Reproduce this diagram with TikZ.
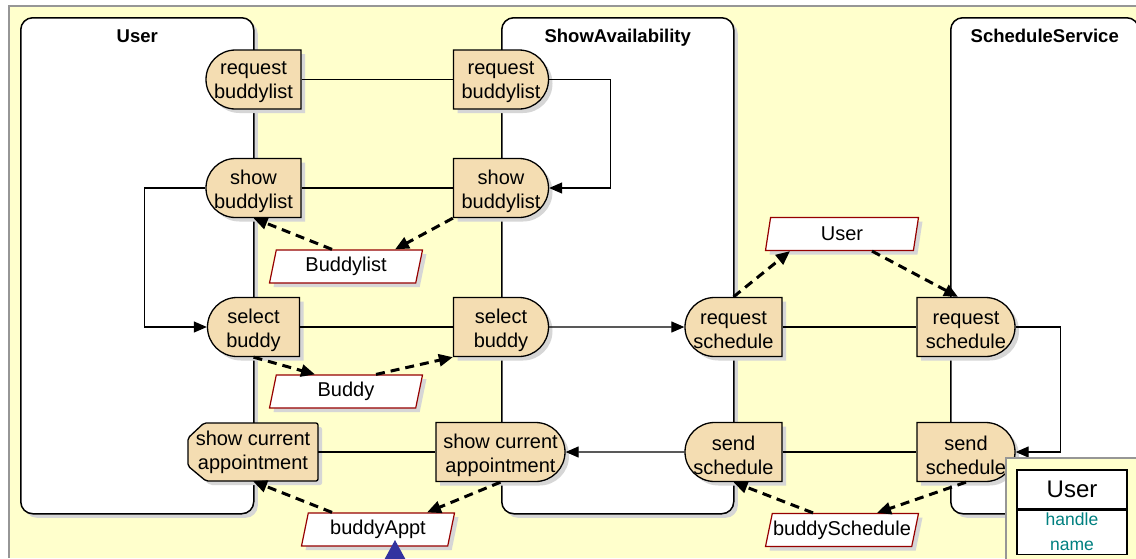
\documentclass[tikz,border=0pt]{standalone}
\usepackage{fontspec}
\setmainfont{Liberation Sans}
\usetikzlibrary{positioning,shapes.misc,shapes.geometric,shadows,arrows.meta}
\definecolor{bgyellow}{RGB}{255,255,204}
\definecolor{actfill}{RGB}{244,221,178}
\definecolor{objred}{RGB}{150,0,0}
\definecolor{shadowgray}{RGB}{214,214,214}
\definecolor{framegray}{RGB}{150,150,150}
\definecolor{tealtext}{RGB}{0,128,128}
\definecolor{bluetri}{RGB}{51,51,160}
\begin{document}
\begin{tikzpicture}[x=1pt, y=-1pt,
    shade/.style={drop shadow={shadow xshift=4pt, shadow yshift=-4pt, fill=shadowgray, opacity=1}},
    lane/.style={draw, line width=1.5pt, fill=white, rounded corners=12pt, anchor=north west, inner sep=0pt, shade},
    lanetitle/.style={font=\fontsize{18.5}{22}\selectfont\bfseries, inner sep=0pt, anchor=base},
    act/.style={rounded rectangle, draw, line width=1.3pt, fill=actfill, minimum width=95pt, minimum height=59pt, inner sep=0pt, shade},
    roundleft/.style={act, rounded rectangle right arc=none},
    roundright/.style={act, rounded rectangle left arc=none},
    acttext/.style={align=center, font=\fontsize{20}{24}\selectfont, inner sep=0pt},
    actlabel/.style={acttext, yshift=-3pt},
    obj/.style={trapezium, trapezium left angle=70, trapezium right angle=110, trapezium stretches body, draw=objred, line width=1.2pt, fill=white, minimum width=153pt, minimum height=33pt, inner sep=0pt, font=\fontsize{20}{24}\selectfont, shade},
    link/.style={line width=1.2pt},
    flow/.style={line width=1.2pt, -{Triangle[length=13pt, width=11pt]}},
    objflow/.style={line width=3pt, dash pattern=on 9pt off 6pt, -{Triangle[length=14pt, width=12pt]}}
  ]
  \useasboundingbox (0,0) rectangle (1136,558);
  \clip (0,0) rectangle (1136,558);

  \fill[bgyellow] (9,6) rectangle (1136,558);
  \draw[framegray, line width=1.5pt] (9,558) -- (9,6) -- (1136,6);

  % swimlanes
  \node[lane, minimum width=233pt, minimum height=496pt] (userlane) at (20,17) {};
  \node[lane, minimum width=232pt, minimum height=496pt] (salane) at (501,17) {};
  \node[lane, minimum width=188pt, minimum height=496pt] (sslane) at (950,17) {};
  \node[lanetitle] at ([yshift=-25pt]userlane.north) {User};
  \node[lanetitle] at ([yshift=-25pt]salane.north) {ShowAvailability};
  \node[lanetitle] at ([yshift=-25pt]sslane.north) {ScheduleService};

  % actions
  \node[roundleft, label={[actlabel]center:request\\buddylist}] (ureq) at (253.5,79.5) {};
  \node[roundleft, label={[actlabel]center:show\\buddylist}] (ushow) at (253.5,188) {};
  \node[roundleft, minimum width=92pt, label={[actlabel]center:select\\buddy}] (usel) at (253.5,327) {};
  \path[draw, line width=1.3pt, fill=actfill, shade, rounded corners=2pt]
    (318,423) -- (318,481) -- (206,481) -- (188,466) -- (188,438) -- (204,423) -- cycle;
  \node[acttext, minimum width=130pt, minimum height=58pt] (uappt) at (253,452) {show current\\appointment};

  \node[roundright, label={[actlabel]center:request\\buddylist}] (sareq) at (501,79.5) {};
  \node[roundright, label={[actlabel]center:show\\buddylist}] (sashow) at (501,188) {};
  \node[roundright, label={[actlabel]center:select\\buddy}] (sasel) at (501,327) {};
  \node[roundright, minimum width=129pt, label={[actlabel]center:show current\\appointment}] (saappt) at (500.5,452) {};

  \node[roundleft, minimum width=97pt, label={[actlabel]center:request\\schedule}] (sareqsched) at (733.5,327) {};
  \node[roundleft, minimum width=97pt, label={[actlabel]center:send\\schedule}] (sasend) at (733.5,452) {};
  \node[roundright, minimum width=98pt, label={[actlabel]center:request\\schedule}] (ssreqsched) at (966,327) {};
  \node[roundright, minimum width=98pt, label={[actlabel]center:send\\schedule}] (sssend) at (966,452) {};

  % objects
  \node[obj] (blist) at (346,266.5) {Buddylist};
  \node[obj] (buddy) at (346,391.5) {Buddy};
  \node[obj] (userobj) at (842,234) {User};
  \node[obj] (bappt) at (378,529.5) {buddyAppt};
  \node[obj] (bsched) at (842,530) {buddySchedule};

  % control flow
  \draw[link] (ureq) -- (sareq);
  \draw[link] (ushow) -- (sashow);
  \draw[link] (usel) -- (sasel);
  \draw[link] (uappt) -- (saappt);
  \draw[link] (sareqsched) -- (ssreqsched);
  \draw[link] (sasend) -- (sssend);
  \draw[flow] (sareq.east) -- ++(61,0) |- (sashow);
  \draw[flow] (ushow.west) -- ++(-61,0) |- (usel);
  \draw[flow] (sasel) -- (sareqsched);
  \draw[flow] (ssreqsched.east) -- ++(45,0) |- (sssend);
  \draw[flow] (sasend) -- (saappt);

  % object flow
  \draw[objflow] (sashow.south west) -- ([xshift=49pt]blist.north);
  \draw[objflow] ([xshift=-14pt]blist.north) -- (ushow.south);
  \draw[objflow] (usel.south) -- ([xshift=-31pt]buddy.north);
  \draw[objflow] ([xshift=30pt]buddy.north) -- (sasel.south west);
  \draw[objflow] (sareqsched.north) -- ([xshift=-52pt]userobj.south);
  \draw[objflow] ([xshift=30pt]userobj.south) -- ([xshift=-8pt]ssreqsched.north);
  \draw[objflow] (sssend.south) -- ([xshift=35pt]bsched.north);
  \draw[objflow] ([xshift=-29pt]bsched.north) -- (sasend.south);
  \draw[objflow] (saappt.south) -- ([xshift=49pt]bappt.north);
  \draw[objflow] ([xshift=-46pt]bappt.north) -- (uappt.south);

  \fill[bluetri] (395,540) -- (383,562) -- (407,562) -- cycle;

  % class box
  \draw[framegray, line width=1.5pt, fill=bgyellow] (1006,458) rectangle (1150,570);
  \node[draw, line width=1.3pt, fill=white, minimum width=110pt, minimum height=39pt, font=\fontsize{24}{28}\selectfont] (cls) at (1072,489.5) {User};
  \node[draw, line width=1.3pt, fill=white, minimum width=110pt, inner ysep=3pt, align=center, text=tealtext, font=\fontsize{17.5}{25}\selectfont, below=0pt of cls] (clsattr) {handle\\name};
\end{tikzpicture}
\end{document}
